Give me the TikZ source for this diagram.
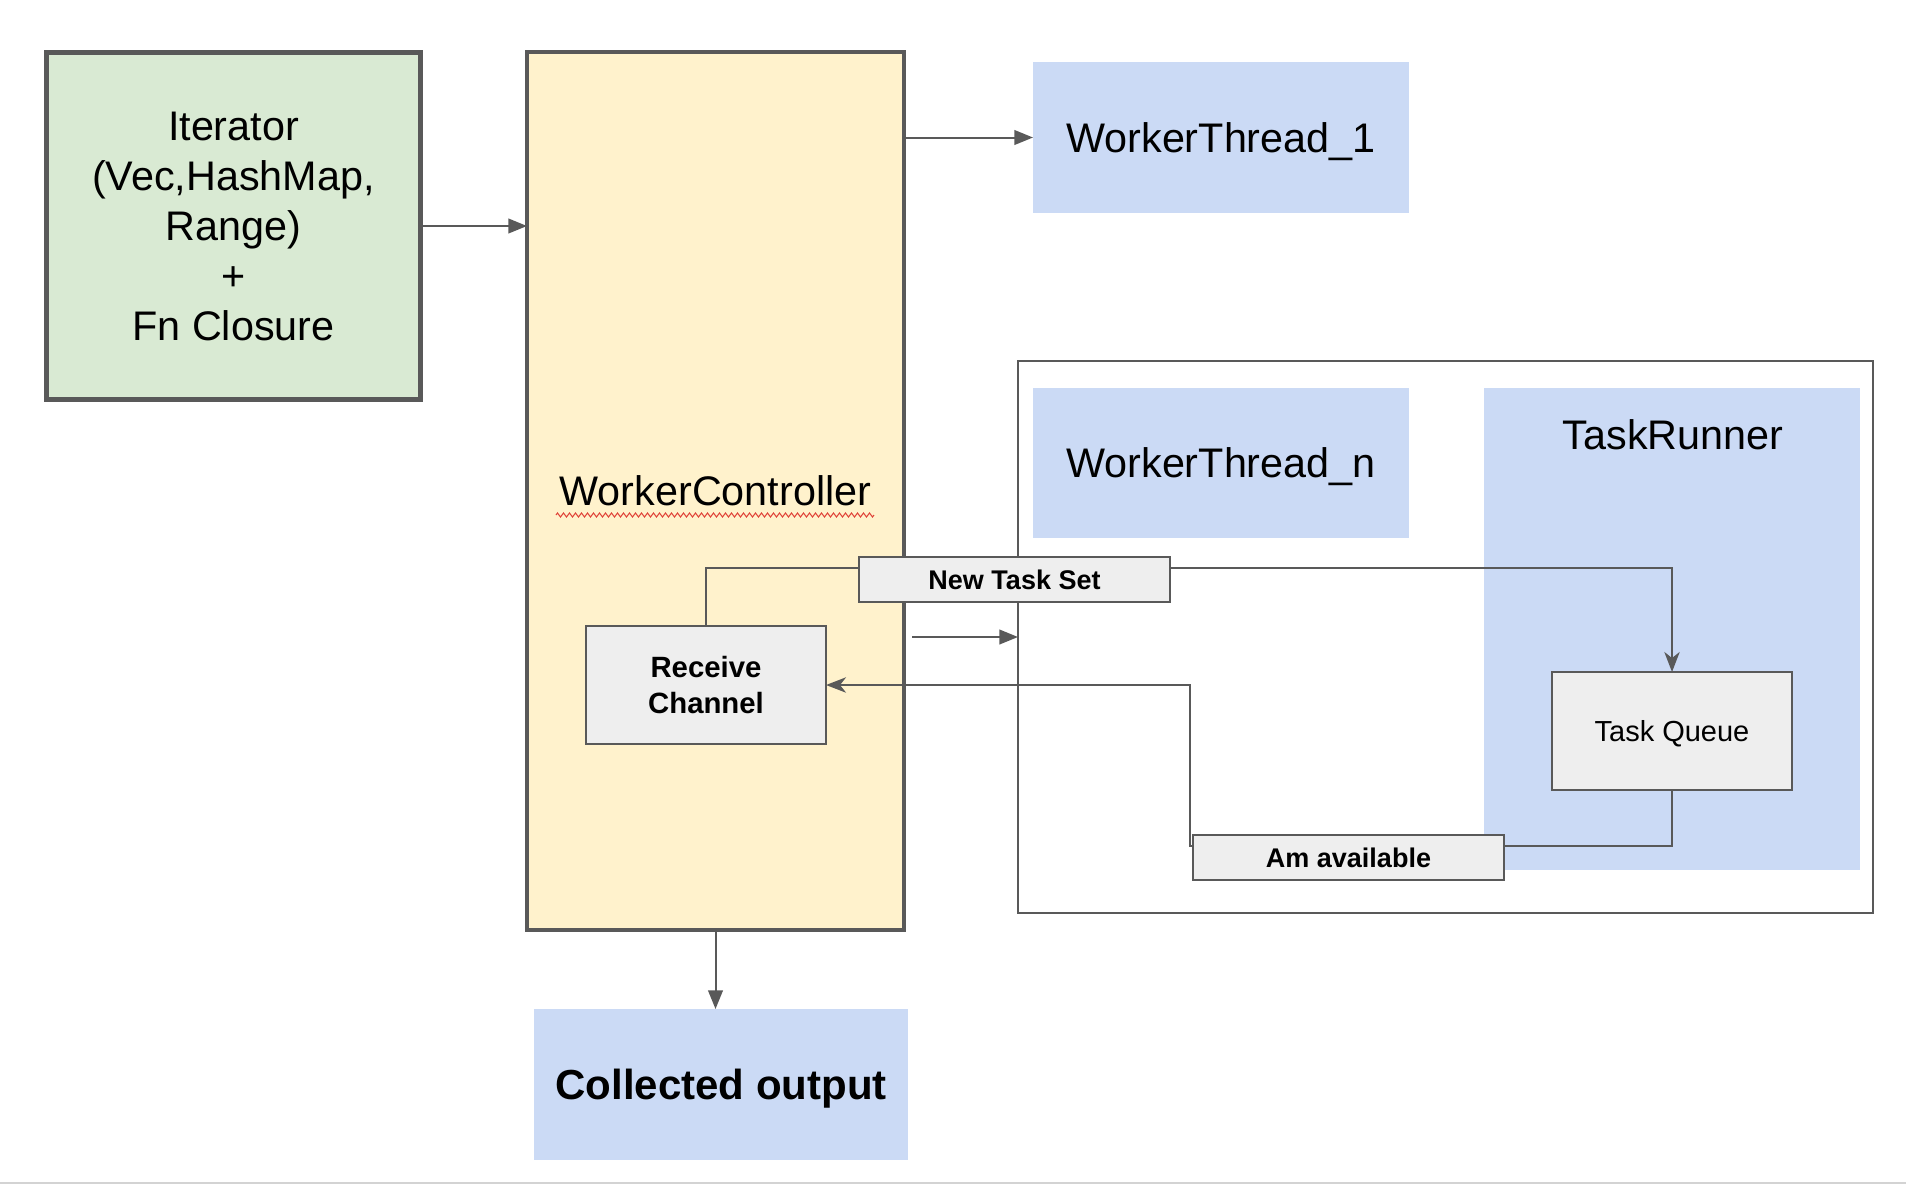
\documentclass[tikz,border=0pt]{standalone}
\usepackage{fontspec}
\setmainfont{Liberation Sans}
\usetikzlibrary{arrows.meta,decorations.pathmorphing,calc}
\definecolor{lgreen}{HTML}{D9EAD3}
\definecolor{lyellow}{HTML}{FFF2CC}
\definecolor{lblue}{HTML}{CBDAF5}
\definecolor{lgray}{HTML}{EEEEEE}
\definecolor{lineg}{HTML}{595959}
\definecolor{botgray}{HTML}{D3D3D3}
\definecolor{squig}{HTML}{E0453A}
\newcommand\bigfnt{\fontsize{31}{37.5}\selectfont}
\newcommand\cofnt{\fontsize{31.5}{37.5}\selectfont\bfseries}
\newcommand\rcfnt{\fontsize{22}{27.4}\selectfont\bfseries}
\newcommand\lblfnt{\fontsize{20.25}{24}\selectfont\bfseries}
\newcommand\tqfnt{\fontsize{21.75}{26}\selectfont}
\begin{document}
\begin{tikzpicture}[x=0.75pt,y=-0.75pt,
  box/.style={rectangle, inner sep=0pt, outer sep=0pt, anchor=center, text=black, align=center},
  nodepth/.style={text depth=0pt},
  thickbox/.style={box, draw=lineg, line width=3.75pt},
  wcbox/.style={box, draw=lineg, line width=3pt, fill=lyellow},
  bluebox/.style={box, fill=lblue},
  graybox/.style={box, fill=lgray, draw=lineg, line width=1.5pt},
  framebox/.style={box, draw=lineg, line width=1.5pt},
  conn/.style={draw=lineg, line width=1.5pt},
  tri/.style={conn, -{Triangle[length=14pt,width=11pt]}},
  stl/.style={conn, -{Stealth[length=15pt,width=11.5pt,inset=4.5pt]}}
]
\useasboundingbox (0,0) rectangle (1906,1186);

% outer container and blue boxes
\node[framebox, minimum width=641.25pt, minimum height=414pt] (cont) at (1445.5,637) {};
\node[bluebox, minimum width=282pt, minimum height=361.5pt] (tr) at (1672,629) {};
\node[box, font=\bigfnt] (trlbl) at (1673,435) {TaskRunner};
\node[bluebox, nodepth, minimum width=282pt, minimum height=112.5pt, font=\bigfnt] (wtn) at (1221,463) {WorkerThread\_n};
\node[bluebox, nodepth, minimum width=282pt, minimum height=113.25pt, font=\bigfnt] (wt1) at (1221,137.5) {WorkerThread\_1};

% iterator and controller
\node[thickbox, fill=lgreen, minimum width=280.5pt, minimum height=260.25pt, font=\bigfnt] (iter) at (233.5,226)
  {\raisebox{-2pt}{\parbox{250pt}{\centering Iterator\\(Vec,HashMap,\\Range)\\+\\Fn Closure}}};
\node[wcbox, minimum width=282.75pt, minimum height=658.5pt, font=\bigfnt] (wc) at (715.5,491) {\raisebox{-1.5pt}{WorkerController}};
\draw[squig, line width=0.8pt, decorate, decoration={zigzag, segment length=4.5pt, amplitude=1.5pt}]
  (556,515) -- (874,515);

\node[bluebox, nodepth, minimum width=280.5pt, minimum height=113.25pt, font=\cofnt] (co) at (721,1084.5) {Collected output};

% inner boxes
\node[graybox, nodepth, minimum width=180pt, minimum height=88.5pt, font=\tqfnt] (tq) at (1672,731) {Task Queue};
\node[graybox, minimum width=180pt, minimum height=88.5pt, font=\rcfnt] (rc) at (706,685) {Receive\\Channel};

% connectors
\coordinate (ny) at (0,568);
\coordinate (ay) at (0,846);
\coordinate (sa) at (912,637);
\draw[tri] (iter.east) -- (wc.west |- iter.east);
\draw[tri] (wc.east |- wt1.west) -- (wt1.west);
\draw[tri] (sa) -- (cont.west |- sa);
\draw[tri] (wc.south) -- (wc.south |- co.north);

\node[graybox, minimum width=233.25pt, minimum height=33.75pt, font=\lblfnt] (nts) at (1014.5,579.5) {New Task Set};
\node[graybox, minimum width=233.25pt, minimum height=33.75pt, font=\lblfnt] (am) at (1348.5,857.5) {Am available};

\draw[conn] (rc.north) |- (nts.west |- ny);
\draw[stl] (nts.east |- ny) -| (tq.north);
\draw[conn] (tq.south) |- (am.east |- ay);
\draw[stl] (am.west |- ay) -- ++(-3,0) |- (rc.east);

% bottom rule
\draw[botgray, line width=1.5pt] (0,1183) -- (1906,1183);
\end{tikzpicture}
\end{document}
